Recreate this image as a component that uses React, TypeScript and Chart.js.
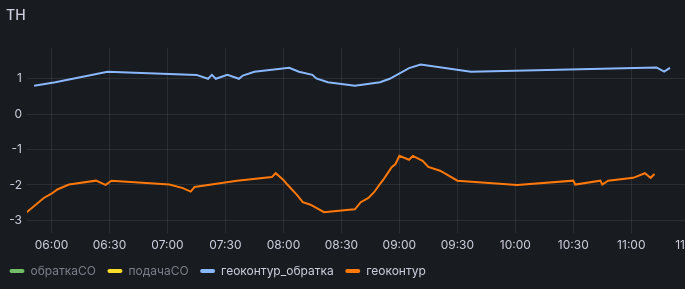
import React, { useEffect, useRef } from "react";
import { Chart, registerables } from "chart.js";

Chart.register(...registerables);

const panelTitle = "TH";

const seriesNames = ["обраткаСО", "подачаСО", "геоконтур_обратка", "геоконтур"];
const seriesColors = ["#73BF69", "#FADE2A", "#8AB8FF", "#FF780A"];
const seriesHidden = [true, true, false, false];

// hidden series: no visible data in the panel
const obratkaCOTimes: string[] = [];
const obratkaCOValues: number[] = [];
const podachaCOTimes: string[] = [];
const podachaCOValues: number[] = [];

const geoObratkaTimes = [
  "05:51", "06:02", "06:29", "07:15", "07:21", "07:23", "07:25", "07:31", "07:37", "07:39",
  "07:45", "08:03", "08:08", "08:15", "08:17", "08:23", "08:29", "08:37", "08:50", "08:55",
  "09:05", "09:11", "09:37", "11:13", "11:17", "11:20",
];
const geoObratkaValues = [
  0.8, 0.9, 1.2, 1.11, 1.0, 1.11, 1.0, 1.11, 1.0, 1.09,
  1.2, 1.31, 1.2, 1.11, 1.01, 0.9, 0.86, 0.8, 0.9, 1.0,
  1.3, 1.4, 1.2, 1.32, 1.2, 1.31,
];

const geoTimes = [
  "05:47", "05:56", "06:00", "06:03", "06:09", "06:23", "06:28", "06:31", "07:01", "07:08",
  "07:12", "07:14", "07:36", "07:54", "07:56", "08:00", "08:02", "08:07", "08:10", "08:14",
  "08:21", "08:34", "08:37", "08:40", "08:44", "08:47", "08:50", "08:52", "08:56", "08:58",
  "09:00", "09:05", "09:07", "09:12", "09:15", "09:21", "09:24", "09:30", "10:01", "10:30",
  "10:31", "10:44", "10:45", "10:48", "11:01", "11:07", "11:10", "11:12",
];
const geoValues = [
  -2.78, -2.37, -2.25, -2.13, -1.99, -1.88, -2.0, -1.88, -1.99, -2.09,
  -2.19, -2.06, -1.88, -1.78, -1.67, -1.86, -1.99, -2.28, -2.49, -2.56,
  -2.77, -2.7, -2.69, -2.49, -2.37, -2.2, -1.97, -1.83, -1.5, -1.41,
  -1.18, -1.29, -1.18, -1.32, -1.49, -1.6, -1.69, -1.88, -2.0, -1.88,
  -1.99, -1.88, -1.99, -1.88, -1.8, -1.67, -1.8, -1.69,
];

const xTickLabels = ["06:00", "06:30", "07:00", "07:30", "08:00", "08:30", "09:00", "09:30", "10:00", "10:30", "11:00", "11:30"];
const yTickValues = [-3, -2, -1, 0, 1];

const xMinTime = "05:47:19";
const xMaxTime = "11:45:54";
const yMin = -3.36;
const yMax = 1.87;

function toMinutes(t: string): number {
  const p = t.split(":").map(Number);
  return p[0] * 60 + p[1] + (p[2] || 0) / 60;
}
function fmt(m: number): string {
  const h = Math.floor(m / 60);
  const mm = Math.round(m % 60);
  return String(h).padStart(2, "0") + ":" + String(mm).padStart(2, "0");
}
function pts(times: string[], values: number[]) {
  return times.map((t, i) => ({ x: toMinutes(t), y: values[i] }));
}

const textColor = "#ccccdc";
const gridColor = "rgba(204,204,220,0.1)";

const titlePlugin = {
  id: "panelTitle",
  afterDraw(chart: any) {
    const ctx = chart.ctx;
    ctx.save();
    ctx.font = "500 14px Inter";
    ctx.fillStyle = textColor;
    ctx.textAlign = "left";
    ctx.textBaseline = "alphabetic";
    ctx.fillText(panelTitle, 6, 20);
    ctx.restore();
  },
};

export default function App() {
  const ref = useRef<HTMLCanvasElement | null>(null);
  useEffect(() => {
    if (!ref.current) return;
    const seriesData = [
      pts(obratkaCOTimes, obratkaCOValues),
      pts(podachaCOTimes, podachaCOValues),
      pts(geoObratkaTimes, geoObratkaValues),
      pts(geoTimes, geoValues),
    ];
    const chart = new Chart(ref.current, {
      type: "line",
      data: {
        datasets: seriesNames.map((name, i) => ({
          label: name,
          data: seriesData[i],
          borderColor: seriesColors[i],
          backgroundColor: seriesColors[i],
          borderWidth: 2,
          pointRadius: 0,
          tension: 0,
          hidden: seriesHidden[i],
        })),
      },
      options: {
        responsive: false,
        animation: false,
        events: [],
        layout: { padding: { top: 48, bottom: 2, left: -2, right: 10 } },
        plugins: {
          tooltip: { enabled: false },
          title: { display: false },
          legend: {
            display: true,
            position: "bottom",
            align: "start",
            labels: {
              boxWidth: 15,
              boxHeight: 4,
              padding: 11.5,
              useBorderRadius: true,
              borderRadius: 2,
              font: { family: "Inter", size: 12 },
              color: textColor,
              generateLabels: (c: any) =>
                c.data.datasets.map((ds: any, i: number) => ({
                  text: ds.label,
                  fillStyle: seriesColors[i],
                  strokeStyle: seriesColors[i],
                  lineWidth: 0,
                  hidden: false,
                  datasetIndex: i,
                  borderRadius: 2,
                  fontColor: seriesHidden[i] ? "rgba(204,204,220,0.55)" : textColor,
                })),
            },
          },
        },
        scales: {
          x: {
            type: "linear",
            min: toMinutes(xMinTime),
            max: toMinutes(xMaxTime),
            afterBuildTicks: (scale: any) => {
              scale.ticks = xTickLabels.map((t) => ({ value: toMinutes(t) }));
            },
            afterFit: (scale: any) => {
              scale.height = 20.5;
            },
            ticks: {
              color: textColor,
              font: { family: "Inter", size: 12 },
              padding: 5,
              maxRotation: 0,
              autoSkip: false,
              callback: (v: any) => fmt(Number(v)),
            },
            grid: { color: gridColor, drawTicks: false },
            border: { display: false },
          },
          y: {
            type: "linear",
            min: yMin,
            max: yMax,
            afterBuildTicks: (scale: any) => {
              scale.ticks = yTickValues.map((v) => ({ value: v }));
            },
            afterFit: (scale: any) => {
              scale.width = 29;
            },
            ticks: {
              color: textColor,
              font: { family: "Inter", size: 12 },
              padding: 5,
              callback: (v: any) => String(v),
            },
            grid: { color: gridColor, drawTicks: false },
            border: { display: false },
          },
        },
      },
      plugins: [titlePlugin],
    } as any);
    return () => chart.destroy();
  }, []);

  return (
    <div
      style={{
        position: "fixed",
        left: 0,
        top: 0,
        width: 685,
        height: 289,
        overflow: "hidden",
        background: "#181b1f",
      }}
    >
      <canvas ref={ref} width={730} height={289} style={{ display: "block" }} />
    </div>
  );
}
